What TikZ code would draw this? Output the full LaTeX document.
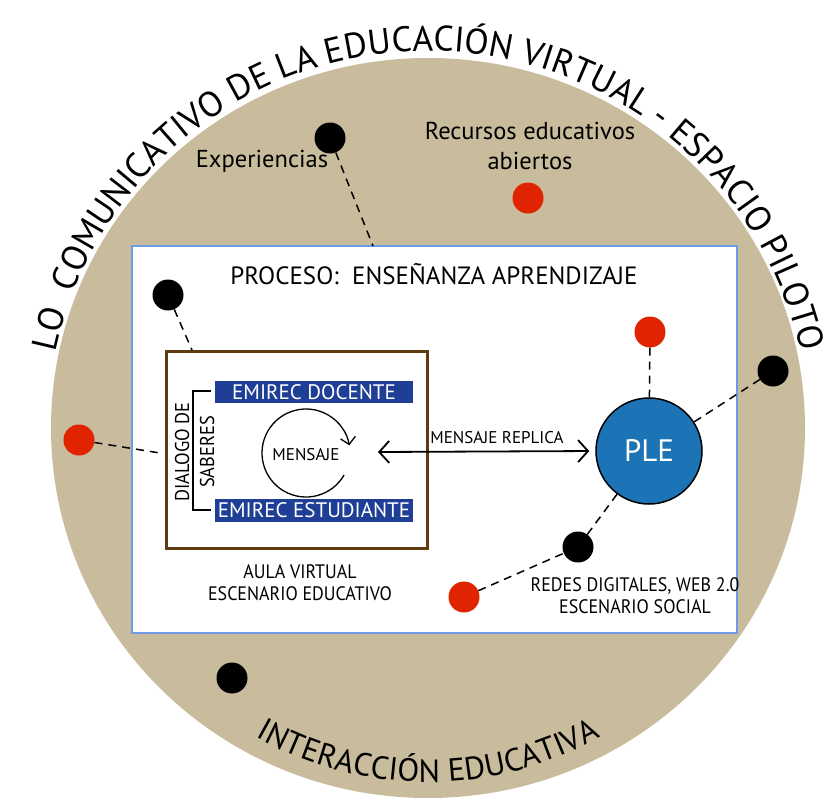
\documentclass[tikz,border=0pt]{standalone}
\usepackage{fontspec}
\setmainfont{PT Sans}
\newfontfamily\cond[FakeStretch=0.92]{PT Sans}
\usetikzlibrary{decorations.text,arrows.meta}
\definecolor{tanbg}{HTML}{C9BC9D}
\definecolor{dotred}{HTML}{E02300}
\definecolor{boxblue}{HTML}{6E9BE6}
\definecolor{brownbox}{HTML}{5E3C10}
\definecolor{emiblue}{HTML}{1F3F96}
\definecolor{pleblue}{HTML}{1C74B6}
\begin{document}
\begin{tikzpicture}[x=1pt,y=-1pt,
  dot/.style={circle, minimum size=31, inner sep=0, draw=none},
  reddot/.style={dot, fill=dotred},
  blackdot/.style={dot, fill=black},
  dashline/.style={line width=1.5, dash pattern=on 8 off 6},
  lbl/.style={font=\cond\fontsize{18.5}{22}\selectfont, inner sep=0, align=center},
  body/.style={font=\fontsize{24.5}{30}\selectfont, inner sep=0, align=center},
  emibox/.style={fill=emiblue, text=white, minimum width=198, minimum height=22.5, inner sep=0, font=\fontsize{21}{21}\selectfont},
  >={Straight Barb[length=10,width=22]}
]
\useasboundingbox (0,0) rectangle (839,798);
\fill[tanbg] (428,428) ellipse [x radius=377, y radius=370];

% curved titles
\path[decorate, decoration={text along path, text align=center,
  text={|\fontsize{35.5}{35.5}\selectfont|LO{\ \ }COMUNICATIVO DE LA EDUCACIÓN VIRTUAL - ESPACIO PILOTO}}]
  (428,432) ++(-179:381) arc[start angle=-179, end angle=-1, radius=381];
\path[decorate, decoration={text along path, text align=center,
  text={|\fontsize{32}{32}\selectfont|INTERACCIÓN EDUCATIVA}}]
  (428,432) ++(-200:350) arc[start angle=-200, end angle=-340, radius=350];

% process box
\node[draw=boxblue, line width=1.5, fill=white, minimum width=605, minimum height=387, inner sep=0] (proc) at (434.5,439.5) {};
\node[font=\fontsize{25}{25}\selectfont, inner sep=0] (proctitle) at (434,274) {PROCESO:\ \ ENSEÑANZA APRENDIZAJE};

% aula virtual
\node[draw=brownbox, line width=3, minimum width=261, minimum height=197, inner sep=0] (aula) at (296.5,449.5) {};
\node[emibox] (doc) at (314,392) {EMIREC DOCENTE};
\node[emibox] (est) at (314,510.5) {EMIREC ESTUDIANTE};
\coordinate (bt) at (211,391);
\coordinate (bb) at (211,510);
\draw[line width=1.5] (bt) -- ++(-18,0) |- (bb);
\node[lbl, rotate=90, font=\cond\fontsize{20}{20}\selectfont] (dial) at (182,452) {DIALOGO DE};
\node[lbl, rotate=90, font=\cond\fontsize{20}{20}\selectfont] (sab) at (207,452) {SABERES};
\node[lbl, font=\fontsize{17}{20}\selectfont] (mens) at (306,455) {MENSAJE};
\draw[line width=1.3, -{Straight Barb[length=7,width=15]}] (306,453) ++(30:44) arc[start angle=30, end angle=350, radius=44];
\node[lbl, font=\cond\fontsize{19.5}{22}\selectfont] (aulalbl) at (300,583) {AULA VIRTUAL\\ESCENARIO EDUCATIVO};

% PLE
\node[circle, draw=black, line width=1.5, fill=pleblue, minimum size=106, inner sep=0, text=white, font=\fontsize{31}{31}\selectfont] (ple) at (649,451) {PLE};
\coordinate (mL) at (378,452);
\draw[line width=1.8, <->, shorten >=6] (mL) -- (ple.west);
\node[lbl, font=\fontsize{17}{20}\selectfont] (replica) at (497,438) {MENSAJE REPLICA};
\node[lbl, font=\cond\fontsize{19.5}{22}\selectfont] (redes) at (635,596) {REDES DIGITALES, WEB 2.0\\ESCENARIO SOCIAL};

% outer labels
\node[body] (exp) at (262,161) {Experiencias};
\node[body] (rec) at (530,146) {Recursos educativos\\abiertos};

% dots
\node[reddot] (redL) at (79,440) {};
\node[blackdot] (blackUL) at (168,295) {};
\node[blackdot] (blackExp) at (330,138) {};
\node[reddot] (redRec) at (528,198) {};
\node[blackdot] (blackBot) at (232,678) {};
\node[reddot] (red1) at (650,332) {};
\node[blackdot] (black1) at (773,371) {};
\node[blackdot] (black2) at (578,547) {};
\node[reddot] (red2) at (464,597) {};

\coordinate (lEnd) at (160,453);
\coordinate (ulEnd) at (192,350);
\coordinate (expEnd) at (373,246);
\draw[dashline] (redL) -- (lEnd);
\draw[dashline] (blackUL) -- (ulEnd);
\draw[dashline] (blackExp) -- (expEnd);
\draw[dashline] (red1) -- (ple);
\draw[dashline] (black1) -- (ple);
\draw[dashline] (black2) -- (ple);
\draw[dashline] (red2) -- (black2);
\end{tikzpicture}
\end{document}
